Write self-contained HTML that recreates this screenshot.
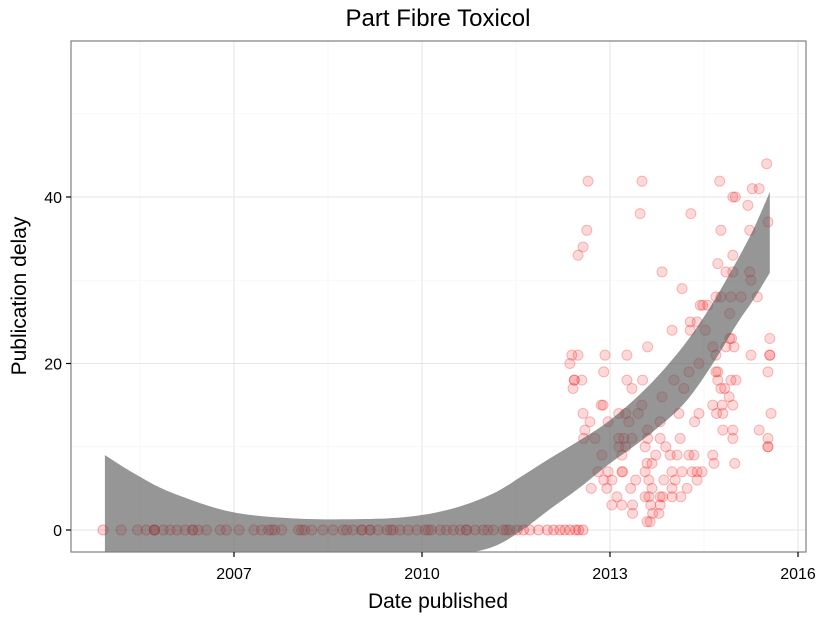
<!DOCTYPE html>
<html><head><meta charset="utf-8"><style>
body{margin:0;background:#fff;}
svg{display:block;font-family:"Liberation Sans",sans-serif;}
</style></head><body>
<svg id="chart" width="825" height="618"></svg>
<script>
const zeroDates=[2004.91,2005.2,2005.46,2005.6,2005.73,2005.73,2005.73,2005.87,2005.98,2006.09,2006.22,2006.34,2006.34,2006.43,2006.56,2006.78,2006.88,2007.08,2007.32,2007.44,2007.55,2007.6,2007.65,2007.76,2008.03,2008.08,2008.13,2008.24,2008.42,2008.58,2008.74,2008.8,2008.9,2009.04,2009.04,2009.17,2009.17,2009.3,2009.44,2009.5,2009.54,2009.65,2009.78,2009.92,2010.05,2010.1,2010.15,2010.29,2010.39,2010.5,2010.61,2010.71,2010.71,2010.85,2010.98,2011.05,2011.14,2011.3,2011.35,2011.4,2011.52,2011.62,2011.72,2011.86,2012.0,2012.1,2012.2,2012.28,2012.36,2012.45,2012.5,2012.57];
const ptDates=[2012.65,2013.51,2014.75,2015.5,2015.27,2015.38,2014.96,2015.0,2015.2,2013.48,2014.29,2012.63,2014.77,2015.23,2012.57,2012.49,2015.52,2014.72,2014.96,2013.83,2014.85,2014.96,2015.23,2015.25,2014.15,2014.69,2014.77,2014.93,2015.09,2015.35,2014.44,2014.48,2014.56,2014.91,2014.28,2014.39,2014.28,2013.99,2014.52,2014.91,2014.94,2015.55,2013.6,2014.64,2014.85,2014.98,2012.39,2012.49,2012.92,2013.27,2014.69,2015.25,2015.55,2015.55,2012.36,2014.42,2012.9,2014.69,2014.72,2015.52,2012.43,2012.43,2012.55,2013.27,2013.52,2014.72,2014.93,2015.01,2012.41,2013.35,2014.18,2014.77,2014.83,2014.02,2014.9,2013.83,2012.86,2012.89,2014.26,2014.96,2014.64,2014.79,2012.57,2013.14,2013.25,2013.45,2013.51,2014.1,2014.42,2014.35,2014.7,2014.8,2015.57,2012.68,2012.97,2013.3,2013.8,2012.6,2013.6,2014.8,2014.96,2015.38,2012.58,2012.76,2013.14,2013.22,2013.35,2013.6,2013.8,2014.12,2014.96,2015.52,2012.87,2013.14,2013.25,2013.56,2013.89,2015.52,2015.52,2013.19,2013.73,2013.96,2014.07,2014.26,2014.34,2014.64,2012.81,2012.97,2013.19,2013.2,2013.56,2013.99,2014.15,2014.31,2014.39,2014.47,2013.59,2013.67,2014.66,2014.99,2012.9,2013.03,2013.41,2013.62,2013.86,2014.04,2014.39,2012.7,2012.95,2013.33,2013.67,2013.99,2014.23,2013.11,2013.56,2013.62,2013.8,2013.84,2013.99,2014.13,2013.03,2013.19,2013.36,2013.65,2013.8,2013.36,2013.68,2013.78,2013.59,2013.64];
const ptVals=[41.9,41.9,41.9,44,41,41,40,40,39,38,38,36,36,36,34,33,37,32,33,31,31,31,31,30,29,28,28,28,28,28,27,27,27,26,25,25,24,24,24,23,23,23,22,22,22,22,21,21,21,21,21,21,21,21,20,20,19,19,19,19,18,18,18,18,18,18,18,18,17,17,17,17,17,18,16,16,15,15,19,15,15,15,14,14,14,14,15,14,14,13,14,14,14,13,13,13,13,12,12,12,12,12,11,11,11,11,11,11,11,11,11,11,9,10,10,10,10,10,10,9,9,9,9,9,9,9,7,7,7,7,7,7,7,7,7,7,8,8,8,8,6,6,6,6,6,6,6,5,5,5,5,5,5,4,4,4,4,4,4,4,3,3,3,3,3,2,2,2,1,1];
const bandDates=[2004.94,2005.45,2006,2006.94,2007.94,2009,2009.8,2010.5,2011.14,2011.6,2012.04,2012.5,2013,2013.6,2014.16,2014.6,2015.03,2015.3,2015.55];
const bandUpper=[9,6.6,4.5,2.2,1.4,1.3,1.6,2.6,4.4,6.5,8.6,10.7,13.2,17.2,22,26.8,32.4,36.3,40.6];
const bandLower=[-12,-10,-8,-6,-5.5,-5.3,-4.8,-3.2,-2,0,2.5,5,8,11.3,15,19.5,24.8,27.8,30.9];
const xTicks=[2007,2010,2013,2016];
const yTicks=[0,20,40];
const NS="http://www.w3.org/2000/svg";
const svg=document.getElementById('chart');
const L=71,R=806,T=41,B=552;
const X=d=>234+(d-2007)*62.667;
const Y=v=>530-v*8.325;
function mk(tag,attrs,parent){const e=document.createElementNS(NS,tag);for(const k in attrs)e.setAttribute(k,attrs[k]);(parent||svg).appendChild(e);return e;}
function smooth(pts,start){let s=start?'M'+pts[0][0]+','+pts[0][1]:'L'+pts[0][0]+','+pts[0][1];
 for(let i=0;i<pts.length-1;i++){const p0=pts[Math.max(i-1,0)],p1=pts[i],p2=pts[i+1],p3=pts[Math.min(i+2,pts.length-1)];
 const c1=[p1[0]+(p2[0]-p0[0])/6,p1[1]+(p2[1]-p0[1])/6],c2=[p2[0]-(p3[0]-p1[0])/6,p2[1]-(p3[1]-p1[1])/6];
 s+='C'+c1[0]+','+c1[1]+' '+c2[0]+','+c2[1]+' '+p2[0]+','+p2[1];}return s;}
const defs=mk('defs',{});
const cp=mk('clipPath',{id:'clip'},defs);mk('rect',{x:L,y:T,width:R-L,height:B-T},cp);
[2005.5,2008.5,2011.5,2014.5].forEach(d=>{const l=mk('line',{x1:X(d),x2:X(d),y1:T,y2:B,stroke:'#f5f5f5','stroke-width':0.8});});
[10,30,50].forEach(v=>{const l=mk('line',{x1:L,x2:R,y1:Y(v),y2:Y(v),stroke:'#f5f5f5','stroke-width':0.8});});
xTicks.forEach(d=>{const l=mk('line',{x1:X(d),x2:X(d),y1:T,y2:B,stroke:'#e6e6e6','stroke-width':1});});
yTicks.forEach(v=>{const l=mk('line',{x1:L,x2:R,y1:Y(v),y2:Y(v),stroke:'#e6e6e6','stroke-width':1});});
const g=mk('g',{'clip-path':'url(#clip)'});

zeroDates.forEach(d=>{const c=mk('circle',{cx:X(d),cy:Y(0),r:5,fill:'rgba(255,0,0,0.17)',stroke:'rgba(220,0,0,0.3)','stroke-width':1},g);});
ptDates.forEach((d,i)=>{const c=mk('circle',{cx:X(d),cy:Y(ptVals[i]),r:5,fill:'rgba(255,0,0,0.15)',stroke:'rgba(220,0,0,0.25)','stroke-width':1},g);});
const up=bandDates.map((d,i)=>[X(d),Y(bandUpper[i])]);
const lo=bandDates.map((d,i)=>[X(d),Y(bandLower[i])]).reverse();
const band=mk('path',{d:smooth(up,true)+smooth(lo,false)+'Z',fill:'#555',opacity:0.62},g);

const fr=mk('rect',{x:L,y:T,width:R-L,height:B-T,fill:'none',stroke:'#808080','stroke-width':1.2});

xTicks.forEach(d=>{mk('line',{x1:X(d),x2:X(d),y1:B,y2:B+5,stroke:'#000','stroke-width':1.2});const t=mk('text',{x:X(d),y:B+27,'text-anchor':'middle','font-size':16,fill:'#000'});t.textContent=d;});
yTicks.forEach(v=>{mk('line',{x1:L-5,x2:L,y1:Y(v),y2:Y(v),stroke:'#000','stroke-width':1.2});const t=mk('text',{x:L-9,y:Y(v)+6,'text-anchor':'end','font-size':16,fill:'#000'});t.textContent=v;});
const ti=mk('text',{x:438,y:26,'text-anchor':'middle','font-size':24,fill:'#000'});ti.textContent='Part Fibre Toxicol';
const xl=mk('text',{x:438,y:608,'text-anchor':'middle','font-size':21,fill:'#000'});xl.textContent='Date published';
const yl=mk('text',{x:0,y:0,'text-anchor':'middle','font-size':21,fill:'#000',transform:'translate(26,296) rotate(-90)'});yl.textContent='Publication delay';
</script>
</body></html>
